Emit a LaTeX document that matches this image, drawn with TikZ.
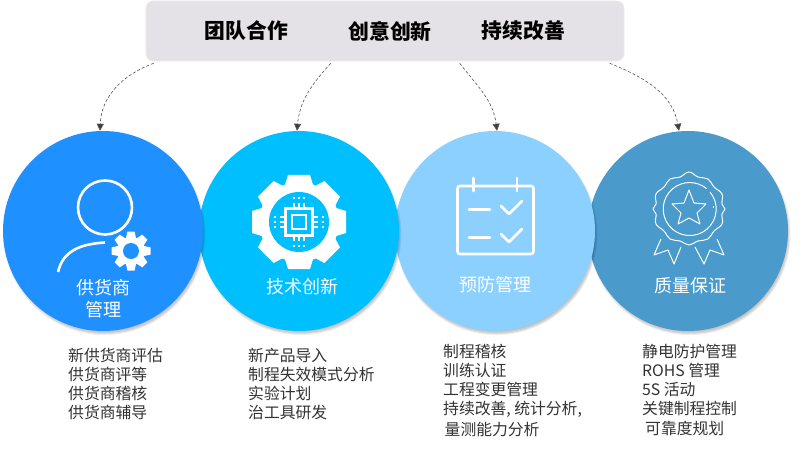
\documentclass[tikz,border=0pt]{standalone}
\usepackage{fontspec}
\setmainfont{Noto Sans CJK SC}
\usetikzlibrary{arrows.meta,calc}
\definecolor{cA}{HTML}{1E90FF}
\definecolor{cB}{HTML}{00BFFF}
\definecolor{cC}{HTML}{8BD0FF}
\definecolor{cD}{HTML}{4A9ACC}
\definecolor{banner}{HTML}{E4E2E6}
\definecolor{linkc}{HTML}{555555}
\tikzset{x=1pt,y=-1pt,
 disc/.style={circle,minimum size=200pt,inner sep=0pt},
 softshade/.style={fill=black,opacity=.07},
 disclabel/.style={text=white,font=\fontsize{18}{22}\selectfont,align=center,inner sep=0pt},
 listtext/.style={text=black!80,font=\fontsize{15.8}{19}\selectfont,align=left,anchor=north west,inner sep=0pt},
 headtext/.style={text=black,font=\fontsize{20.8}{24}\selectfont\bfseries,inner sep=0pt},
 link/.style={draw=linkc,densely dashed,line width=.6pt,-{Triangle[length=7pt,width=7pt,fill=black!75]}},
 icothin/.style={draw=white,line width=1pt,fill=none,line join=round}}
\newcommand{\softdisc}[2]{\foreach \rr in {96,97.5,99,100,101}{\fill[softshade] (#1+1.5,#2+3) circle (\rr);}}
\newcommand{\gearteeth}[6]{% cx cy base-radius tip-radius base-half tip-half
 \foreach \a in {0,45,...,315}{\fill[white] (#1,#2) ++(\a:#3) ++(\a+90:#5) -- ($(#1,#2)+(\a:#4)+(\a+90:#6)$) -- ($(#1,#2)+(\a:#4)+(\a+90:-#6)$) -- ($(#1,#2)+(\a:#3)+(\a+90:-#5)$) -- cycle;}}
\begin{document}
\begin{tikzpicture}
\useasboundingbox (0,0) rectangle (811,449);
\fill[white] (0,0) rectangle (811,449);
\node[draw=banner!70!white,fill=banner,rounded corners=7pt,minimum width=478pt,minimum height=60pt,inner sep=0pt,line width=.6pt] (ban) at (385,31) {};
\node[headtext] (h1) at (246.5,31) {团队合作};
\node[headtext] (h2) at (390,31) {创意创新};
\node[headtext] (h3) at (523.5,31) {持续改善};
% discs
\softdisc{688}{231}
\node[disc,fill=cD] (d4) at (688,231) {};
\softdisc{495}{231}
\node[disc,fill=cC] (d3) at (495,231) {};
\softdisc{299}{231}
\node[disc,fill=cB] (d2) at (299,231) {};
\softdisc{103}{231}
\node[disc,fill=cA] (d1) at (103,231) {};
% connectors
\draw[link] ($(ban.south west)+(8,2)$) to[out=200,in=88] ($(d1.north)+(-3,0)$);
\draw[link] ($(ban.south west)+(185,2)$) to[out=228,in=85] ($(d2.north)+(-2,0)$);
\draw[link] ($(ban.south west)+(314,2)$) to[out=-52,in=97] ($(d3.north)+(2,0)$);
\draw[link] ($(ban.south west)+(464,2)$) to[out=-22,in=100] ($(d4.north)+(-9,0)$);
% labels
\node[disclabel] (l1) at (103,299) {供货商\\管理};
\node[disclabel] (l2) at (302,287) {技术创新};
\node[disclabel] (l3) at (495,285) {预防管理};
\node[disclabel] (l4) at (690,286) {质量保证};
% lists
\node[listtext] (t1) at (68,347.5) {新供货商评估\\供货商评等\\供货商稽核\\供货商辅导};
\node[listtext] (t2) at (248,347.5) {新产品导入\\制程失效模式分析\\实验计划\\治工具研发};
\node[listtext] (t3) at (443,343.5) {制程稽核\\训练认证\\工程变更管理\\持续改善, 统计分析,\\[2.5pt]\hspace{1.5pt}量测能力分析};
\node[listtext] (t4) at (642,343.5) {静电防护管理\\ROHS 管理\\5S 活动\\关键制程控制\\[1.5pt]\hspace{3pt}可靠度规划};
% icon 1
\draw[white,line width=2.6pt] (105,207.5) circle (27);
\draw[white,line width=2.6pt] (58,272) .. controls (63,251) and (80,244) .. (105,242.5);
\gearteeth{131}{251}{12}{19.5}{5.2}{3.6}
\fill[white] (131,251) circle (14);
\fill[cA] (131,251) circle (8);
% icon 2
\gearteeth{299}{222}{34}{47}{15}{11}
\fill[white] (299,222) circle (40);
\fill[cB] (299,222) circle (30);
\draw[white,line width=2.8pt] (285.5,208.5) rectangle (312.5,235.5);
\draw[white,line width=2.8pt] (292,215) rectangle (306,229);
\foreach \d in {-5,0,5}{
 \draw[white,line width=1.7pt] (299+\d,208) -- (299+\d,203) (299+\d,236) -- (299+\d,241);
 \fill[white] (299+\d-1.2,197) rectangle +(2.4,2.4);
 \fill[white] (299+\d-1.2,245) rectangle +(2.4,2.4);
 \draw[white,line width=1.7pt] (285,222+\d) -- (280,222+\d) (313,222+\d) -- (318,222+\d);
 \fill[white] (274,222+\d-1.2) rectangle +(2.4,2.4);
 \fill[white] (322,222+\d-1.2) rectangle +(2.4,2.4);
}
% icon 3
\draw[white,line width=2.6pt,rounded corners=2.5pt] (457.5,186) rectangle (533.5,254);
\draw[white,line width=2.6pt,line cap=round] (473.5,178) -- (473.5,191) (517,178) -- (517,191);
\draw[white,line width=2.6pt,line cap=round] (469,209.5) -- (490,209.5) (469,237.5) -- (490,237.5);
\draw[white,line width=2.8pt,line cap=round,line join=round] (501,206) -- (509,214) -- (522,201) (501,234) -- (509,242) -- (522,229);
% icon 4
\draw[icothin] plot[smooth cycle,tension=.7] coordinates {
(689,172)(698,177)(708,179)(714,187)(722,194)(722,204)(725,209)(722,214)(722,224)(714,231)(708,239)(698,241)(689,245)(680,241)(670,239)(664,231)(656,224)(656,214)(653,209)(656,204)(656,194)(664,187)(670,179)(680,177)};
\draw[icothin] (710,192) arc (-40:310:26.5);
\draw[white,line width=1pt] (713.5,206) -- (713.5,208);
\draw[icothin] (689,190) -- (694,203) -- (706,204) -- (697,213) -- (700,224) -- (689,218) -- (678,224) -- (681,213) -- (672,204) -- (684,203) -- cycle;
\draw[icothin] (661,239) -- (654,255) -- (668,250) -- (674,264) -- (681,247);
\draw[icothin] (717,239) -- (724,255) -- (710,250) -- (704,264) -- (695,247);
\end{tikzpicture}
\end{document}
